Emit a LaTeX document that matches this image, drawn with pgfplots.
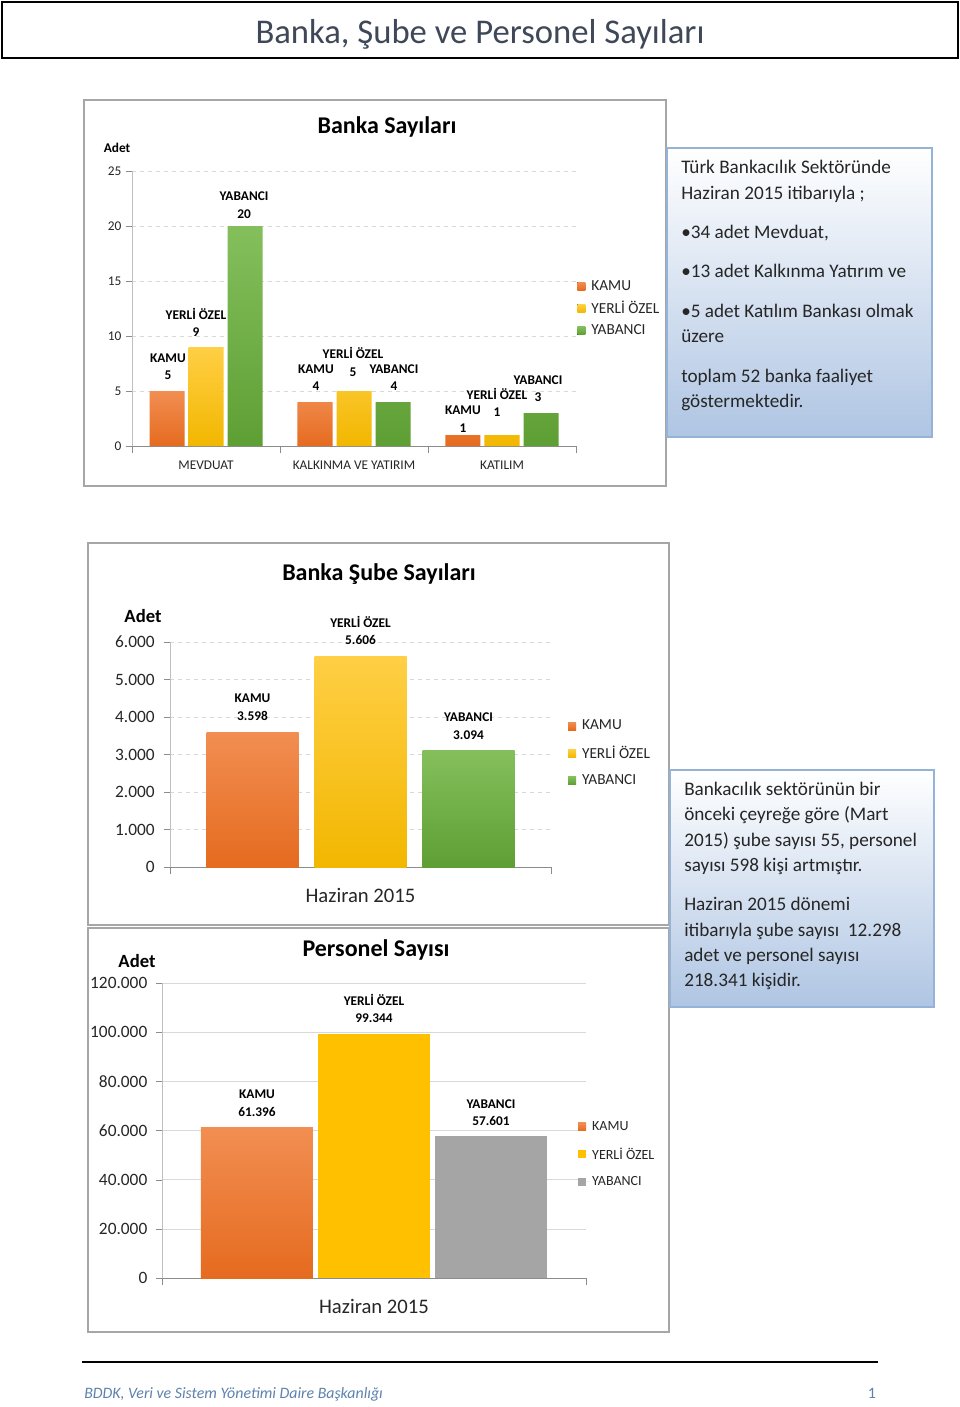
\documentclass[border=0pt]{standalone}
\usepackage{pgfplots}
\pgfplotsset{compat=1.18}
\usepackage{fontspec}
\setmainfont{Carlito}
\definecolor{kamuT}{HTML}{F28E52}
\definecolor{kamuB}{HTML}{E56B1F}
\definecolor{yerT}{HTML}{FFCF45}
\definecolor{yerB}{HTML}{F2B700}
\definecolor{yabT}{HTML}{84BF5C}
\definecolor{yabB}{HTML}{5E9F34}
\definecolor{kamu}{HTML}{EE7B34}
\definecolor{yer}{HTML}{FFC000}
\definecolor{yab}{HTML}{70AD47}
\definecolor{gri}{HTML}{A5A5A5}
\definecolor{axgray}{HTML}{8C8C8C}
\definecolor{lightax}{HTML}{BFBFBF}
\definecolor{gridgray}{HTML}{D9D9D9}
\definecolor{txt}{HTML}{262626}
\definecolor{framec}{HTML}{A6A6A6}
\definecolor{boxborder}{HTML}{95B3D7}
\definecolor{boxbottom}{HTML}{AFC5E3}
\definecolor{titlecol}{HTML}{3F4858}
\definecolor{footcol}{HTML}{5E82AE}
\pgfplotsset{
  bankaxis/.style={
    anchor=south west, scale only axis,
    axis x line*=bottom, axis y line*=left,
    x axis line style={draw=axgray,-}, y axis line style={draw=lightax,-},
    tick align=outside, major tick length=4.5pt, minor tick length=5pt,
    major x tick style={draw=none}, minor x tick style={draw=axgray},
    ytick style={draw=axgray},
    ymajorgrids, scaled y ticks=false,
    /pgf/number format/fixed,
    /pgf/number format/precision=0,
    /pgf/number format/1000 sep={.},
    /pgf/number format/assume math mode=true,
    tick label style={text=txt},
    clip=false, legend cell align=left,
  },
  sq/.style={legend image code/.code={\fill[##1, draw=none] (0pt,-3pt) rectangle (6pt,3pt); \path (0pt,0pt) -- (9pt,0pt);}},
}
\begin{document}
\begin{tikzpicture}
\begin{scope}[x=0.75pt,y=-0.75pt]
\path[use as bounding box] (0,0) rectangle (960,1407);
\fill[white] (0,0) rectangle (960,1407);
% title box
\draw[line width=1.5pt] (2,2) rectangle (958,58);
\node[anchor=base, inner sep=0, text=titlecol, font=\fontsize{26}{30}\selectfont] at (480,43) {Banka, Şube ve Personel Sayıları};
% chart frames
\draw[framec, line width=1.1pt, fill=white] (84,100) rectangle (666,486);
\draw[framec, line width=1.1pt, fill=white] (88,543) rectangle (669,925);
\draw[framec, line width=1.1pt, fill=white] (88,928) rectangle (669,1332);
% chart titles
\node[anchor=base, inner sep=0, font=\bfseries\fontsize{18}{22}\selectfont] at (387,133) {Banka Sayıları};
\node[anchor=base, inner sep=0, font=\bfseries\fontsize{18}{22}\selectfont] at (379,580) {Banka Şube Sayıları};
\node[anchor=base, inner sep=0, font=\bfseries\fontsize{18}{22}\selectfont] at (376,956) {Personel Sayısı};
\node[anchor=base, inner sep=0, font=\bfseries\fontsize{10}{12}\selectfont] at (117,152) {Adet};
\node[anchor=base, inner sep=0, font=\bfseries\fontsize{14}{16}\selectfont] at (143,622) {Adet};
\node[anchor=base, inner sep=0, font=\bfseries\fontsize{14}{16}\selectfont] at (137,967) {Adet};
\end{scope}

% ---------- Chart 1 ----------
\begin{axis}[bankaxis,
  at={(99pt,-334.5pt)}, width=333pt, height=206.25pt,
  xmin=-0.5, xmax=2.5, ymin=0, ymax=25, ytick={0,5,...,25},
  ybar=3pt, bar width=26.25pt,
  xtick={0,1,2}, xticklabels={MEVDUAT,KALKINMA VE YATIRIM,KATILIM},
  minor xtick={-0.5,0.5,1.5,2.5},
  grid style={draw=gridgray, dashed},
  tick label style={font=\fontsize{10}{12}\selectfont},
  xticklabel style={yshift=-3pt},
  legend style={at={(1.0025,0.611)}, anchor=north west, draw=none, fill=none,
    font=\fontsize{11.5}{13}\selectfont, text=txt, row sep=3.75pt, inner sep=0pt, nodes={inner sep=1.5pt}},
]
\addplot[sq, draw=none, top color=kamuT, bottom color=kamuB] coordinates {(0,5) (1,4) (2,1)};
\addplot[sq, draw=none, top color=yerT, bottom color=yerB] coordinates {(0,9) (1,5) (2,1)};
\addplot[sq, draw=none, top color=yabT, bottom color=yabB] coordinates {(0,20) (1,4) (2,3)};
\legend{KAMU,YERLİ ÖZEL,YABANCI}
\tikzset{lbl/.style={align=center, inner sep=0pt, font=\bfseries\fontsize{10}{13}\selectfont}}
\node[lbl] at (axis cs:-0.257,7.18) {KAMU\\5};
\node[lbl] at (axis cs:-0.068,11.23) {YERLİ ÖZEL\\9};
\node[lbl] at (axis cs:0.257,21.9) {YABANCI\\20};
\node[lbl] at (axis cs:0.743,6.23) {KAMU\\4};
\node[lbl] at (axis cs:0.993,7.64) {YERLİ ÖZEL\\5};
\node[lbl] at (axis cs:1.270,6.23) {YABANCI\\4};
\node[lbl] at (axis cs:1.736,2.45) {KAMU\\1};
\node[lbl] at (axis cs:1.966,3.95) {YERLİ ÖZEL\\1};
\node[lbl] at (axis cs:2.243,5.23) {YABANCI\\3};
\end{axis}

% ---------- Chart 2 ----------
\begin{axis}[bankaxis,
  at={(127.5pt,-650.25pt)}, width=285.75pt, height=168.75pt,
  xmin=-0.5, xmax=0.5, ymin=0, ymax=6000, ytick={0,1000,...,6000},
  ybar=12pt, bar width=69pt,
  xtick={0}, xticklabels={Haziran 2015}, minor xtick={-0.5,0.5},
  grid style={draw=gridgray, dashed},
  xticklabel style={font=\fontsize{15.5}{18}\selectfont, yshift=-8pt},
  yticklabel style={font=\fontsize{13}{15}\selectfont, xshift=-3.5pt},
  every node near coord/.append style={align=center, inner sep=0pt, yshift=8.7pt, text=black,
     font=\bfseries\fontsize{10}{13}\selectfont},
  legend style={at={(1.044,0.663)}, anchor=north west, draw=none, fill=none,
    font=\fontsize{11.5}{13}\selectfont, text=txt, row sep=7.5pt, inner sep=0pt, nodes={inner sep=1.5pt}},
]
\addplot[sq, draw=none, top color=kamuT, bottom color=kamuB,
  nodes near coords={KAMU\\\pgfmathprintnumber{\pgfplotspointmeta}}] coordinates {(0,3598)};
\addplot[sq, draw=none, top color=yerT, bottom color=yerB,
  nodes near coords={YERLİ ÖZEL\\\pgfmathprintnumber{\pgfplotspointmeta}}] coordinates {(0,5606)};
\addplot[sq, draw=none, top color=yabT, bottom color=yabB,
  nodes near coords={YABANCI\\\pgfmathprintnumber{\pgfplotspointmeta}}] coordinates {(0,3094)};
\legend{KAMU,YERLİ ÖZEL,YABANCI}
\end{axis}

% ---------- Chart 3 ----------
\begin{axis}[bankaxis,
  at={(121.5pt,-958.5pt)}, width=318pt, height=221.25pt,
  xmin=-0.5, xmax=0.5, ymin=0, ymax=120000, ytick={0,20000,...,120000},
  ybar=3.75pt, bar width=84pt,
  xtick={0}, xticklabels={Haziran 2015}, minor xtick={-0.5,0.5},
  grid style={draw=gridgray},
  xticklabel style={font=\fontsize{15.5}{18}\selectfont, yshift=-8pt},
  yticklabel style={font=\fontsize{13}{15}\selectfont, xshift=-3pt},
  every node near coord/.append style={align=center, inner sep=0pt, yshift=8pt, text=black,
     font=\bfseries\fontsize{10}{13}\selectfont},
  legend style={at={(0.981,0.539)}, anchor=north west, draw=none, fill=none,
    font=\fontsize{10.5}{12}\selectfont, text=txt, row sep=8.5pt, inner sep=0pt, nodes={inner sep=1.5pt}},
]
\addplot[sq, draw=none, top color=kamuT, bottom color=kamuB,
  nodes near coords={KAMU\\\pgfmathprintnumber{\pgfplotspointmeta}}] coordinates {(0,61396)};
\addplot[sq, draw=none, fill=yer,
  nodes near coords={YERLİ ÖZEL\\\pgfmathprintnumber{\pgfplotspointmeta}}] coordinates {(0,99344)};
\addplot[sq, draw=none, fill=gri,
  nodes near coords={YABANCI\\\pgfmathprintnumber{\pgfplotspointmeta}}] coordinates {(0,57601)};
\legend{KAMU,YERLİ ÖZEL,YABANCI}
\end{axis}

\begin{scope}[x=0.75pt,y=-0.75pt]
% text box 1
\shade[top color=white, bottom color=boxbottom] (667,148) rectangle (932,437);
\draw[boxborder, line width=1.5pt] (667,148) rectangle (932,437);
\begin{scope}[every node/.style={anchor=base west, inner sep=0, text=txt, font=\fontsize{14.4}{17}\selectfont}]
\node at (681,173) {Türk Bankacılık Sektöründe};
\node at (681,199) {Haziran 2015 itibarıyla ;};
\node at (681,238) {•34 adet Mevduat,};
\node at (681,277) {•13 adet Kalkınma Yatırım ve};
\node at (681,317) {•5 adet Katılım Bankası olmak};
\node at (681,342) {üzere};
\node at (681,382) {toplam 52 banka faaliyet};
\node at (681,407) {göstermektedir.};
\end{scope}
% text box 2
\shade[top color=white, bottom color=boxbottom] (670,770) rectangle (934,1007);
\draw[boxborder, line width=1.5pt] (670,770) rectangle (934,1007);
\begin{scope}[every node/.style={anchor=base west, inner sep=0, text=txt, font=\fontsize{14.4}{17}\selectfont}]
\node at (684,795) {Bankacılık sektörünün bir};
\node at (684,820) {önceki çeyreğe göre (Mart};
\node at (684,846) {2015) şube sayısı 55, personel};
\node at (684,871) {sayısı 598 kişi artmıştır.};
\node at (684,910) {Haziran 2015 dönemi};
\node at (684,936) {itibarıyla şube sayısı\ \ 12.298};
\node at (684,961) {adet ve personel sayısı};
\node at (684,986) {218.341 kişidir.};
\end{scope}
% footer
\draw[line width=1.5pt] (82,1362) -- (878,1362);
\node[anchor=base west, inner sep=0, text=footcol, font=\itshape\fontsize{11.9}{14}\selectfont] at (84,1398) {BDDK, Veri ve Sistem Yönetimi Daire Başkanlığı};
\node[anchor=base, inner sep=0, text=footcol, font=\fontsize{11.9}{14}\selectfont] at (872,1398) {1};
\end{scope}
\end{tikzpicture}
\end{document}
